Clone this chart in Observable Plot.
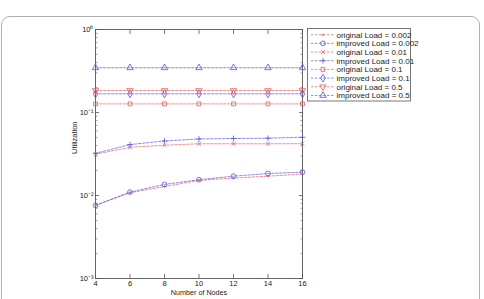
<!DOCTYPE html>
<html>
<head>
<meta charset="utf-8">
<script src="https://cdn.jsdelivr.net/npm/d3@7"></script>
<script src="https://cdn.jsdelivr.net/npm/@observablehq/plot@0.6"></script>
<style>
  html, body { margin: 0; padding: 0; background: #fff; }
  #wrap { position: relative; width: 484px; height: 299px; overflow: hidden; font-family: "Liberation Sans", Arial, sans-serif; }
  #frame { position: absolute; left: 1px; top: 16px; width: 479px; height: 300px; border: 1px solid #b0b0b0; border-radius: 9px; box-sizing: border-box; }
  #chart { position: absolute; left: 0; top: 0; }
  #legend { position: absolute; left: 0; top: 0; }
</style>
</head>
<body>
<div id="wrap"><div id="frame"></div><div id="chart"></div><svg id="legend" width="484" height="299"></svg></div>
<script>
const nodes = [4, 6, 8, 10, 12, 14, 16];
const seriesNames = [
  "original Load = 0.002", "improved Load = 0.002",
  "original Load = 0.01", "improved Load = 0.01",
  "original Load = 0.1", "improved Load = 0.1",
  "original Load = 0.5", "improved Load = 0.5"
];
const original002 = [0.0076, 0.0108, 0.0128, 0.0152, 0.0162, 0.0171, 0.0181];
const improved002 = [0.0076, 0.0110, 0.0136, 0.0155, 0.0171, 0.0184, 0.0191];
const original001 = [0.0314, 0.0381, 0.0403, 0.0420, 0.0420, 0.0420, 0.0421];
const improved001 = [0.0322, 0.0411, 0.0454, 0.0480, 0.0486, 0.0490, 0.0503];
const original01 = [0.127, 0.127, 0.127, 0.127, 0.127, 0.127, 0.127];
const improved01 = [0.168, 0.168, 0.168, 0.168, 0.168, 0.168, 0.168];
const original05 = [0.184, 0.184, 0.184, 0.184, 0.184, 0.184, 0.184];
const improved05 = [0.346, 0.346, 0.346, 0.346, 0.346, 0.346, 0.346];
const yTickValues = [1e-3, 1e-2, 1e-1, 1];
const yTickLabels = ["10\u207B\u00B3", "10\u207B\u00B2", "10\u207B\u00B9", "10\u2070"];
const xTickValues = [4, 6, 8, 10, 12, 14, 16];

const RED = "#e85c5c", BLUE = "#5656dc";
const triangleDown = {
  draw(ctx, size) {
    const y = -Math.sqrt(size / (Math.sqrt(3) * 3));
    ctx.moveTo(0, -y * 2);
    ctx.lineTo(-Math.sqrt(3) * y, y);
    ctx.lineTo(Math.sqrt(3) * y, y);
    ctx.closePath();
  }
};
const seriesValues = [original002, improved002, original001, improved001, original01, improved01, original05, improved05];
const seriesColors = [RED, BLUE, RED, BLUE, RED, BLUE, RED, BLUE];
const seriesSymbols = ["circle", "circle", "times", "plus", "square", "diamond", triangleDown, "triangle"];
const seriesR = [0.7, 2.4, 1.9, 2.0, 2.2, 2.4, 2.4, 2.4];
const seriesFill = [RED, "none", "none", "none", "none", "none", "none", "none"];

const data = [];
seriesNames.forEach((name, i) => {
  nodes.forEach((n, j) => data.push({series: name, idx: i, x: n, y: seriesValues[i][j]}));
});

const minorTicks = [];
for (let e = -3; e < 0; e++) for (let m = 2; m <= 9; m++) minorTicks.push(m * Math.pow(10, e));

const marks = [
  Plot.frame({stroke: "#555", strokeWidth: 0.9}),
  Plot.axisY(minorTicks, {anchor: "left", tickSize: -2.5, tickFormat: () => "", stroke: "#666", strokeWidth: 0.6}),
  Plot.axisY(minorTicks, {anchor: "right", tickSize: -2.5, tickFormat: () => "", stroke: "#666", strokeWidth: 0.6}),
  Plot.axisY(yTickValues, {anchor: "left", tickSize: -4, tickFormat: () => "", stroke: "#555", strokeWidth: 0.8}),
  Plot.axisY(yTickValues, {anchor: "right", tickSize: -4, tickFormat: () => "", stroke: "#555", strokeWidth: 0.8}),
  Plot.axisY(yTickValues, {anchor: "left", tickSize: 0, tickPadding: 2, tickFormat: (d) => yTickLabels[yTickValues.indexOf(d)], fontSize: 7.5, fill: "#222", label: null}),
  Plot.axisX(xTickValues, {anchor: "bottom", tickSize: -4, tickFormat: () => "", stroke: "#555", strokeWidth: 0.8}),
  Plot.axisX(xTickValues, {anchor: "top", tickSize: -4, tickFormat: () => "", stroke: "#555", strokeWidth: 0.8}),
  Plot.axisX(xTickValues, {anchor: "bottom", tickSize: 0, tickPadding: 2.5, fontSize: 7.5, fill: "#222", label: null}),
  Plot.text(["Utilization"], {frameAnchor: "left", rotate: -90, dx: -21, fontSize: 7.5, fill: "#222"}),
  Plot.text(["Number of Nodes"], {frameAnchor: "bottom", dy: 16.5, fontSize: 7.2, fill: "#222"})
];
seriesNames.forEach((name, i) => {
  const d = data.filter(r => r.idx === i);
  marks.push(Plot.line(d, {x: "x", y: "y", stroke: seriesColors[i], strokeWidth: 0.8, strokeDasharray: "2.5,1.5", strokeOpacity: 0.85}));
  marks.push(Plot.dot(d, {x: "x", y: "y", stroke: seriesColors[i], fill: seriesFill[i], symbol: seriesSymbols[i], r: seriesR[i], strokeWidth: 0.8}));
});

const chart = Plot.plot({
  width: 484, height: 299,
  marginLeft: 95, marginRight: 182, marginTop: 29, marginBottom: 21,
  style: {fontFamily: "Liberation Sans, Arial, sans-serif", background: "transparent"},
  x: {domain: [4, 16], label: null, axis: null},
  y: {type: "log", domain: [1e-3, 1], label: null, axis: null},
  marks
});
document.getElementById("chart").appendChild(chart);

// Legend
const lg = d3.select("#legend");
const lx = 307.5, ly = 28.5, lw = 103, lh = 72.5, rowH = 8.68, row0 = 34.7;
lg.append("rect").attr("x", lx).attr("y", ly).attr("width", lw).attr("height", lh)
  .attr("fill", "#fff").attr("stroke", "#555").attr("stroke-width", 0.8);
const d3Sym = {circle: d3.symbolCircle, times: d3.symbolTimes, plus: d3.symbolPlus, square: d3.symbolSquare, diamond: d3.symbolDiamond, triangle: d3.symbolTriangle};
seriesNames.forEach((name, i) => {
  const y = row0 + i * rowH;
  lg.append("line").attr("x1", 311).attr("x2", 335).attr("y1", y).attr("y2", y)
    .attr("stroke", seriesColors[i]).attr("stroke-width", 0.8).attr("stroke-dasharray", "2.5,1.5").attr("stroke-opacity", 0.85);
  const t = typeof seriesSymbols[i] === "string" ? d3Sym[seriesSymbols[i]] : seriesSymbols[i];
  lg.append("path").attr("transform", `translate(323,${y})`)
    .attr("d", d3.symbol().type(t).size(Math.PI * seriesR[i] * seriesR[i])())
    .attr("stroke", seriesColors[i]).attr("fill", seriesFill[i]).attr("stroke-width", 0.8);
  lg.append("text").attr("x", 336.5).attr("y", y).attr("dy", "0.35em")
    .attr("font-size", 8).attr("fill", "#222").attr("font-family", "Liberation Sans, Arial, sans-serif").text(name);
});
</script>
</body>
</html>
